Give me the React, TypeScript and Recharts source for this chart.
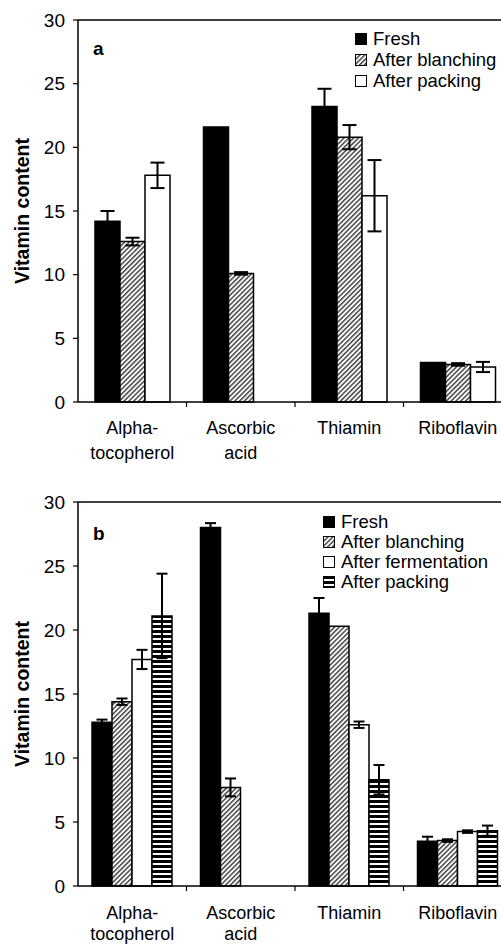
import { BarChart, Bar, XAxis, YAxis, ErrorBar, ReferenceLine, Legend } from 'recharts'

// ─── Data ─────────────────────────────────────────────────────────────────────

const categories = ['Alpha-\ntocopherol', 'Ascorbic\nacid', 'Thiamin', 'Riboflavin']
const yTicks = [0, 5, 10, 15, 20, 25, 30]

// panel a
const freshA = [14.2, 21.6, 23.2, 3.1]
const freshErrA = [0.8, 0, 1.4, 0]
const blanchA = [12.6, 10.1, 20.8, 2.95]
const blanchErrA = [0.3, 0.1, 0.95, 0.1]
const packA = [17.8, null, 16.2, 2.75]
const packErrA = [1.0, null, 2.8, 0.4]

// panel b
const freshB = [12.8, 28.0, 21.3, 3.5]
const freshErrB = [0.2, 0.35, 1.2, 0.35]
const blanchB = [14.4, 7.7, 20.3, 3.55]
const blanchErrB = [0.25, 0.7, 0, 0.1]
const fermB = [17.7, null, 12.6, 4.25]
const fermErrB = [0.75, null, 0.25, 0.1]
const packB = [21.1, null, 8.3, 4.32]
const packErrB = [3.3, null, 1.15, 0.4]

const rowsA = categories.map((name, i) => ({
  name,
  fresh: freshA[i],
  freshErr: freshErrA[i],
  blanch: blanchA[i],
  blanchErr: blanchErrA[i],
  pack: packA[i],
  packErr: packErrA[i],
}))

const rowsB = categories.map((name, i) => ({
  name,
  fresh: freshB[i],
  freshErr: freshErrB[i],
  blanch: blanchB[i],
  blanchErr: blanchErrB[i],
  ferm: fermB[i],
  fermErr: fermErrB[i],
  pack: packB[i],
  packErr: packErrB[i],
}))

type Fill = 'solid' | 'hatch' | 'empty' | 'stripe'

const seriesA: { key: string; label: string; fill: Fill }[] = [
  { key: 'fresh', label: 'Fresh', fill: 'solid' },
  { key: 'blanch', label: 'After blanching', fill: 'hatch' },
  { key: 'pack', label: 'After packing', fill: 'empty' },
]

const seriesB: { key: string; label: string; fill: Fill }[] = [
  { key: 'fresh', label: 'Fresh', fill: 'solid' },
  { key: 'blanch', label: 'After blanching', fill: 'hatch' },
  { key: 'ferm', label: 'After fermentation', fill: 'empty' },
  { key: 'pack', label: 'After packing', fill: 'stripe' },
]

// ─── Helpers ──────────────────────────────────────────────────────────────────

function patternDefs(id: string) {
  return (
    <defs>
      <pattern
        id={`${id}-hatch`}
        patternUnits="userSpaceOnUse"
        width="3.4"
        height="10"
        patternTransform="rotate(45)"
      >
        <rect width="3.4" height="10" fill="#fff" />
        <line x1="0.8" y1="0" x2="0.8" y2="10" stroke="#000" strokeWidth="1.1" />
      </pattern>
      <pattern id={`${id}-stripe`} patternUnits="userSpaceOnUse" width="10" height="5">
        <rect width="10" height="5" fill="#fff" />
        <rect width="10" height="3" fill="#000" />
      </pattern>
    </defs>
  )
}

function fillFor(kind: Fill, id: string) {
  if (kind === 'solid') return '#000'
  if (kind === 'empty') return '#fff'
  return `url(#${id}-${kind})`
}

function makeTick(firstLine: number, lineGap: number) {
  return (props: any) => {
    const { x, y, payload, index } = props
    const half = payload.offset ?? 0
    const lines = String(payload.value).split('\n')
    return (
      <g>
        {index < categories.length - 1 && (
          <line x1={x + half} x2={x + half} y1={y} y2={y + 5} stroke="#000" strokeWidth={1.2} />
        )}
        <text x={x} y={y + firstLine} textAnchor="middle" fontSize={18} fill="#000">
          {lines.map((l, i) => (
            <tspan key={i} x={x} dy={i === 0 ? 0 : lineGap}>
              {l}
            </tspan>
          ))}
        </text>
      </g>
    )
  }
}

function SeriesLegend({ items, id, rowHeight }: { items: typeof seriesB; id: string; rowHeight: number }) {
  return (
    <div style={{ fontSize: 18.5, color: '#000', lineHeight: `${rowHeight}px` }}>
      {items.map((s) => (
        <div key={s.key} style={{ display: 'flex', alignItems: 'center', whiteSpace: 'nowrap' }}>
          <svg width={12} height={12} style={{ marginRight: 6 }}>
            {patternDefs(`${id}-icon-${s.key}`)}
            <rect
              x={0.5}
              y={0.5}
              width={11}
              height={11}
              fill={fillFor(s.fill, `${id}-icon-${s.key}`)}
              stroke="#000"
              strokeWidth={1}
            />
          </svg>
          <span>{s.label}</span>
        </div>
      ))}
    </div>
  )
}

// ─── Panel ────────────────────────────────────────────────────────────────────

interface PanelProps {
  id: string
  rows: any[]
  series: typeof seriesB
  height: number
  top: number
  axisHeight: number
  gap: number
  capWidth: number
  legendPos: { top: number; left: number }
  rowHeight: number
  tickFirst: number
  tickGap: number
}

function Panel(p: PanelProps) {
  return (
    <BarChart
      width={520}
      height={p.height}
      data={p.rows}
      margin={{ top: p.top, right: 8, left: 0, bottom: 0 }}
      barCategoryGap={p.gap}
      barGap={0}
    >
      {patternDefs(p.id)}
      <XAxis
        dataKey="name"
        height={p.axisHeight}
        interval={0}
        tickSize={0}
        tickMargin={0}
        axisLine={{ stroke: '#000', strokeWidth: 1.5 }}
        tick={makeTick(p.tickFirst, p.tickGap)}
      />
      <YAxis
        width={78}
        domain={[0, 30]}
        ticks={yTicks}
        interval={0}
        tickSize={5}
        tickMargin={8}
        axisLine={{ stroke: '#000', strokeWidth: 1.5 }}
        tickLine={{ stroke: '#000', strokeWidth: 1.2 }}
        tick={{ fill: '#000', fontSize: 19 }}
        label={{
          value: 'Vitamin content',
          angle: -90,
          position: 'insideLeft',
          offset: 22,
          style: { textAnchor: 'middle', fontWeight: 'bold', fontSize: 19.5, fill: '#000' },
        }}
      />
      <ReferenceLine y={30} stroke="#000" strokeWidth={1.5} />
      {p.series.map((s) => (
        <Bar
          key={s.key}
          dataKey={s.key}
          name={s.label}
          fill={fillFor(s.fill, p.id)}
          stroke="#000"
          strokeWidth={1.5}
          isAnimationActive={false}
        >
          <ErrorBar dataKey={`${s.key}Err`} width={p.capWidth} stroke="#000" strokeWidth={2} direction="y" />
        </Bar>
      ))}
      <Legend
        layout="horizontal"
        align="center"
        verticalAlign="middle"
        wrapperStyle={{ top: p.legendPos.top, left: p.legendPos.left, width: 'auto' }}
        content={() => <SeriesLegend items={p.series} id={p.id} rowHeight={p.rowHeight} />}
      />
    </BarChart>
  )
}

// ─── App ──────────────────────────────────────────────────────────────────────

export default function App() {
  return (
    <div
      style={{
        position: 'absolute',
        left: 0,
        top: 0,
        width: 501,
        height: 946,
        overflow: 'hidden',
        background: '#fff',
        fontFamily: '"Liberation Sans", Arial, sans-serif',
      }}
    >
      <div style={{ position: 'absolute', left: 0, top: 0 }}>
        <Panel
          id="pa"
          rows={rowsA}
          series={seriesA}
          height={470}
          top={20}
          axisHeight={68}
          gap={17}
          capWidth={7}
          legendPos={{ top: 28, left: 355 }}
          rowHeight={21}
          tickFirst={31.5}
          tickGap={25}
        />
        <div style={{ position: 'absolute', left: 93, top: 39, fontSize: 19, lineHeight: '19px', fontWeight: 'bold' }}>
          a
        </div>
      </div>
      <div style={{ position: 'absolute', left: 0, top: 470 }}>
        <Panel
          id="pb"
          rows={rowsB}
          series={seriesB}
          height={476}
          top={32}
          axisHeight={60}
          gap={14}
          capWidth={5.5}
          legendPos={{ top: 42, left: 323 }}
          rowHeight={20}
          tickFirst={33}
          tickGap={21}
        />
        <div style={{ position: 'absolute', left: 93, top: 54, fontSize: 19, lineHeight: '19px', fontWeight: 'bold' }}>
          b
        </div>
      </div>
    </div>
  )
}
